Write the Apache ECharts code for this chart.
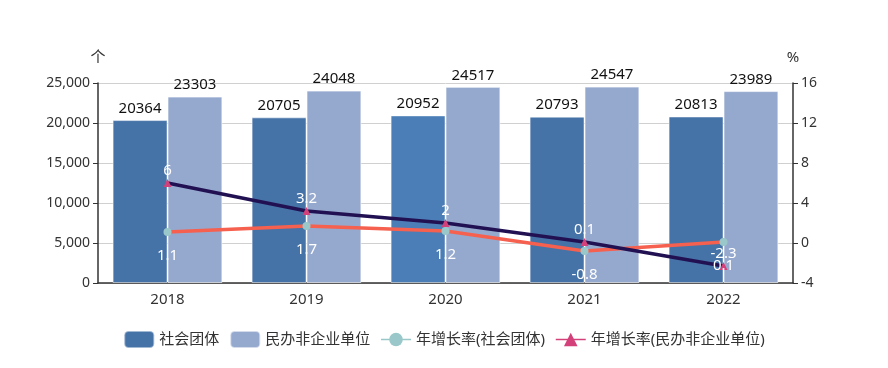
<!DOCTYPE html>
<html><head><meta charset="utf-8">
<script src="https://cdn.jsdelivr.net/npm/echarts@6/dist/echarts.min.js"></script>
<style>html,body{margin:0;padding:0;background:#fff}#c{width:888px;height:368px}</style>
</head><body><div id="c"></div>
<script>
var categories = ['2018','2019','2020','2021','2022'];
var socialGroups = [20364, 20705, 20952, 20793, 20813];
var privateNonEnterprise = [23303, 24048, 24517, 24547, 23989];
var growthSocial = [1.1, 1.7, 1.2, -0.8, 0.1];
var growthPrivate = [6, 3.2, 2, 0.1, -2.3];
var leftTicks = {min: 0, max: 25000, interval: 5000};
var rightTicks = {min: -4, max: 16, interval: 4};

var FONT = '"Noto Sans", "Noto Sans CJK SC", sans-serif';
var chart = echarts.init(document.getElementById('c'), null, {renderer: 'canvas'});
chart.setOption({
  animation: false,
  textStyle: {fontFamily: FONT},
  grid: {left: 98, right: 95, top: 83, bottom: 85},
  legend: {
    bottom: 14, left: 'center', itemWidth: 30, itemHeight: 17, itemGap: 10,
    textStyle: {fontSize: 15, color: '#333', fontFamily: FONT},
    data: [
      {name: '社会团体', icon: 'roundRect', itemStyle: {color: '#4572a7'}},
      {name: '民办非企业单位', icon: 'roundRect', itemStyle: {color: '#95a9cf'}},
      {name: '年增长率(社会团体)', itemStyle: {color: '#9ac8ca'}, lineStyle: {color: '#9ac8ca', width: 1.5}},
      {name: '年增长率(民办非企业单位)', itemStyle: {color: '#d4407a'}, lineStyle: {color: '#d4407a', width: 1.5}}
    ]
  },
  xAxis: {
    type: 'category', data: categories,
    axisLine: {lineStyle: {color: '#333', width: 1.5}},
    axisTick: {alignWithLabel: false, length: 6, lineStyle: {color: '#333'}},
    axisLabel: {fontSize: 15, color: '#333', margin: 9}
  },
  yAxis: [
    {type: 'value', name: '个', nameGap: 18, nameTextStyle: {fontSize: 15, color: '#333', align: 'center'},
     min: leftTicks.min, max: leftTicks.max, interval: leftTicks.interval,
     axisLine: {show: true, lineStyle: {color: '#333', width: 1.5}},
     axisTick: {show: true, length: 5, lineStyle: {color: '#333'}},
     axisLabel: {fontSize: 14, color: '#333', formatter: function(v){return v.toLocaleString('en-US');}},
     splitLine: {lineStyle: {color: '#d0d0d0', width: 1}}},
    {type: 'value', name: '%', nameGap: 18, nameTextStyle: {fontSize: 15, color: '#333', align: 'center'},
     min: rightTicks.min, max: rightTicks.max, interval: rightTicks.interval,
     axisLine: {show: true, lineStyle: {color: '#333', width: 1.5}},
     axisTick: {show: true, length: 5, lineStyle: {color: '#333'}},
     axisLabel: {fontSize: 14, color: '#333'},
     splitLine: {show: false}}
  ],
  series: [
    {name: '社会团体', type: 'bar', data: socialGroups, barGap: '0%', barCategoryGap: '21%',
     itemStyle: {color: function(p){return p.dataIndex === 2 ? '#4b7eb6' : '#4572a7';}, borderColor: 'rgba(255,255,255,0.5)', borderWidth: 1},
     label: {show: true, position: 'top', fontSize: 15, color: '#111', distance: 4}},
    {name: '民办非企业单位', type: 'bar', data: privateNonEnterprise,
     itemStyle: {color: '#95a9cf', borderColor: 'rgba(255,255,255,0.6)', borderWidth: 1},
     label: {show: true, position: 'top', fontSize: 15, color: '#111', distance: 4}},
    {name: '年增长率(社会团体)', type: 'line', yAxisIndex: 1, data: growthSocial, z: 5,
     symbol: 'circle', symbolSize: 8,
     itemStyle: {color: '#9ac8ca'}, lineStyle: {color: '#f5604f', width: 3.5},
     label: {show: true, position: 'bottom', distance: 12, fontSize: 15, color: '#fff'}},
    {name: '年增长率(民办非企业单位)', type: 'line', yAxisIndex: 1, data: growthPrivate, z: 5,
     symbol: 'triangle', symbolSize: 8,
     itemStyle: {color: '#d4407a'}, lineStyle: {color: '#221152', width: 3.5},
     label: {show: true, position: 'top', distance: 1, fontSize: 15, color: '#fff'}}
  ]
});
</script></body></html>
